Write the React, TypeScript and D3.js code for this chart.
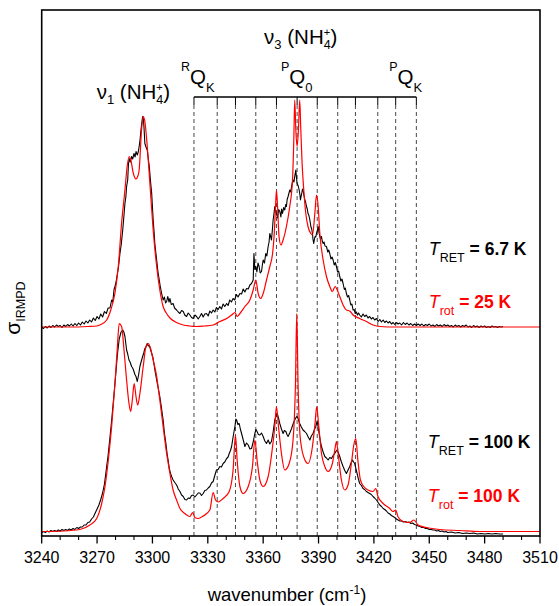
import React from 'react';
import * as d3 from 'd3';

// ---------- data ----------
const X_DOMAIN: [number, number] = [3240, 3510];
const Y_DOMAIN: [number, number] = [0, 100];
const MAJOR_TICKS = [3240, 3270, 3300, 3330, 3360, 3390, 3420, 3450, 3480, 3510];
const MINOR_TICKS = [3250, 3260, 3280, 3290, 3310, 3320, 3340, 3350, 3370, 3380, 3400, 3410, 3430, 3440, 3460, 3470, 3490, 3500];
const Q_LINES = [3322.5, 3335.1, 3345.0, 3356.0, 3367.2, 3378.4, 3389.3, 3400.4, 3410.0, 3422.1, 3431.8, 3443.0];
const TOP_OFFSET = 41; // vertical offset of the upper (6.7 K) pair of traces
const BRACKET_LEVEL = 87;

// upper experimental trace (T_RET = 6.7 K), relative to its own baseline
const topExp: [number, number][] = [
  [3240,0],[3241,-0.3],[3242,0.1],[3243,-0.2],[3244,0.2],[3245,-0.1],[3246,0.3],[3247,0],[3248,0.4],[3249,0.1],
  [3250,0.3],[3251,-0.1],[3252,0.4],[3253,0.1],[3254,0.5],[3255,0.2],[3256,0.6],[3257,0.2],[3258,0.7],[3259,0.3],
  [3260,0.8],[3261,0.4],[3262,1.0],[3263,0.6],[3264,1.2],[3265,0.8],[3266,1.4],[3267,1.0],[3268,1.8],[3269,1.3],
  [3270,2.1],[3271,1.6],[3272,2.6],[3273,2.0],[3274,3.1],[3275,2.7],[3276,3.8],[3277,3.8],[3277.9,5.4],[3278.5,5.0],
  [3279.2,7.5],[3279.7,8.1],[3280.3,9.0],[3280.9,10.4],[3281.6,12.0],[3282.4,14.7],[3283.1,16.5],[3283.9,19.4],
  [3284.5,22.0],[3285.1,24.7],[3285.6,26.0],[3286.0,28.1],[3286.6,29.4],[3287.0,32.5],[3287.4,33.7],[3288.0,33.0],
  [3288.7,34.1],[3289.3,33.6],[3290.0,34.7],[3290.6,34.0],[3291.1,35.1],[3291.8,34.4],[3292.3,35.0],[3292.8,36.1],
  [3293.3,37.5],[3293.8,39.4],[3294.3,41.0],[3294.7,42.1],[3295.1,41.5],[3295.4,40.1],[3295.9,36.7],[3296.5,36.0],
  [3297.2,35.4],[3297.8,33.5],[3298.3,32.1],[3299.0,29.0],[3299.6,26.7],[3300.0,24.0],[3300.4,21.4],[3300.9,19.0],
  [3301.3,16.7],[3301.8,15.0],[3302.3,13.4],[3303.0,11.0],[3303.7,9.4],[3304.3,8.0],[3305.0,6.7],[3305.8,5.4],
  [3306.5,6.0],[3307.1,4.8],[3307.7,5.1],[3308.3,6.1],[3309.0,5.0],[3309.5,5.7],[3310.2,4.5],[3311.2,4.7],
  [3312.0,3.8],[3313.1,3.4],[3314.0,3.0],[3314.9,2.7],[3315.8,3.3],[3316.7,3.1],[3317.5,2.4],[3318.5,2.1],
  [3319.4,2.8],[3320.3,2.4],[3321.2,1.9],[3322.1,1.7],[3323.0,2.4],[3323.9,2.1],[3324.8,1.6],[3325.7,2.1],
  [3326.6,2.7],[3327.5,2.0],[3328.4,2.6],[3329.3,2.7],[3330.2,2.2],[3331.1,3.2],[3332.0,2.8],[3332.9,3.4],
  [3333.8,3.0],[3334.7,3.9],[3335.6,3.5],[3336.5,4.1],[3337.4,3.6],[3338.3,4.6],[3339.2,4.1],[3340.2,4.7],
  [3341.0,4.3],[3341.9,5.4],[3342.8,5.0],[3343.7,5.7],[3344.6,5.4],[3345.5,6.5],[3346.4,6.0],[3347.4,6.7],
  [3348.3,6.6],[3349.2,7.6],[3350.1,7.0],[3351.0,7.7],[3351.9,7.6],[3352.8,8.4],[3353.7,8.7],[3354.6,9.4],
  [3355.0,14.7],[3355.5,11.5],[3356.0,12.1],[3356.6,11.0],[3357.2,12.8],[3357.8,12.1],[3358.4,10.8],[3359.1,11.1],
  [3359.6,12.5],[3360.0,13.4],[3360.7,12.8],[3361.4,14.7],[3362.0,14.2],[3362.7,16.1],[3363.2,17.0],[3363.6,18.7],
  [3364.1,18.0],[3364.5,17.4],[3365.0,19.5],[3365.4,21.4],[3365.9,22.8],[3366.3,24.1],[3366.8,23.0],[3367.2,22.7],
  [3367.8,21.8],[3368.4,23.5],[3369.0,23.1],[3369.6,22.0],[3370.0,23.6],[3370.5,22.7],[3371.1,23.9],[3371.7,23.4],
  [3372.2,24.5],[3372.6,24.1],[3373.0,25.5],[3373.5,26.1],[3374.0,26.8],[3374.4,27.4],[3374.9,27.0],[3375.4,28.1],
  [3375.8,28.9],[3376.2,29.4],[3376.7,29.0],[3377.1,30.1],[3377.7,31.4],[3378.0,30.0],[3378.4,28.7],[3379.0,28.2],
  [3379.5,27.4],[3379.9,26.5],[3380.2,25.4],[3380.6,26.2],[3380.9,26.7],[3381.3,27.6],[3381.6,27.4],[3382.1,26.3],
  [3382.6,25.4],[3383.0,25.0],[3383.5,24.1],[3383.9,23.6],[3384.3,22.7],[3384.8,22.3],[3385.3,21.4],[3385.9,20.0],
  [3386.3,19.6],[3386.7,18.7],[3387.0,17.5],[3387.4,16.7],[3387.8,17.6],[3388.1,18.1],[3388.5,18.0],[3388.9,18.7],
  [3389.3,19.2],[3389.8,20.1],[3390.2,19.0],[3390.7,18.1],[3391.1,17.6],[3391.6,18.1],[3392.0,17.2],[3392.5,16.7],
  [3393.0,17.0],[3393.5,16.2],[3394.3,16.1],[3395.0,15.0],[3395.5,15.4],[3396.1,14.7],[3396.7,13.6],[3397.3,14.0],
  [3397.9,13.4],[3398.5,12.4],[3399.1,12.9],[3399.7,12.1],[3400.3,11.0],[3400.9,11.2],[3401.5,10.1],[3402.1,9.2],
  [3402.7,9.6],[3403.3,8.7],[3404.0,7.5],[3404.5,7.8],[3405.1,6.7],[3405.7,6.0],[3406.3,6.3],[3406.9,5.4],
  [3407.5,4.4],[3408.1,4.6],[3408.7,3.4],[3409.3,3.5],[3409.9,2.7],[3410.5,3.0],[3411.1,2.4],[3411.7,2.8],
  [3412.3,2.4],[3413.2,2.0],[3414.1,2.6],[3415.0,2.1],[3415.9,2.4],[3416.8,1.8],[3417.7,2.1],[3418.6,1.6],
  [3419.5,1.9],[3420.4,1.4],[3421.4,1.7],[3422.3,1.1],[3423.2,1.5],[3424.1,1.0],[3425.0,1.4],[3425.9,0.9],
  [3426.8,1.2],[3427.7,0.8],[3428.6,1.1],[3429.5,0.6],[3430.4,0.9],[3431.3,0.5],[3432.2,0.9],[3433.1,0.6],
  [3434,0.8],[3435,0.4],[3436,0.9],[3437,0.5],[3438,0.8],[3439,0.4],[3440,0.7],[3441,0.3],[3442,0.6],[3443,0.3],
  [3444,0.6],[3445,0.3],[3446,0.6],[3447,0.2],[3448,0.5],[3449,0.3],[3450,0.6],[3451,0.2],[3452,0.4],[3453,0.1],
  [3454,0.5],[3455,0.2],[3456,0.4],[3457,0.1],[3458,0.5],[3459,0.2],[3460,0.4],[3461,0.1],[3462,0.3],[3463,0.0],
  [3464,0.4],[3465,0.1],[3466,0.3],[3467,0.0],[3468,0.3],[3469,0.1],[3470,0.4],[3471,0.0],[3472,0.2],[3473,-0.1],
  [3474,0.3],[3475,0.0],[3476,0.2],[3477,-0.1],[3478,0.2],[3479,0.0],[3480,0.2],[3481,-0.1],[3482,0.1],[3483,-0.1],
  [3484,0.2],[3485,0.0],[3486,0.1],[3487,-0.1],[3488,0.1],[3489,0.0],[3490,0.1],
];

// upper simulated trace (T_rot = 25 K), relative to its own baseline
const topSim: [number, number][] = [
  [3240,0],[3255,0],[3265,0.1],[3269.8,0.2],[3272,0.5],[3275.2,1.4],[3277.5,3.5],[3279.7,6.8],[3281.5,12.1],
  [3283.3,20.8],[3285.1,27.4],[3286.3,32.1],[3287.4,34.1],[3288.4,33.2],[3289.6,30.8],[3291.1,29.6],[3292.1,30.2],
  [3292.8,31.4],[3294.1,39.4],[3295.0,42.1],[3295.9,41.1],[3297.2,36.1],[3298.6,28.8],[3300.4,19.4],[3302.3,12.1],
  [3304.0,7.4],[3305.8,4.1],[3307.5,2.8],[3309.5,1.8],[3313,0.9],[3316.7,0.4],[3320,0.2],[3323.9,0.1],[3328,0.2],
  [3332.9,0.4],[3336.5,1.1],[3340.2,1.7],[3342.9,2.4],[3344.7,2.9],[3345.9,2.1],[3347.4,2.7],[3350.1,4.1],
  [3352.8,5.4],[3354.6,7.4],[3356.0,9.4],[3357.3,6.7],[3358.6,5.7],[3360.0,6.7],[3361.8,9.4],[3363.6,12.1],
  [3365.1,14.7],[3365.9,18.1],[3366.7,24.1],[3367.2,27.4],[3367.8,24.1],[3368.6,18.1],[3369.6,16.4],[3370.8,17.4],
  [3372.6,20.1],[3374.4,24.1],[3375.9,29.4],[3376.6,37.4],[3377.1,45.4],[3377.7,39.4],[3378.4,36.1],[3379.1,39.4],
  [3379.8,45.4],[3380.4,39.4],[3381.1,32.7],[3382.0,27.4],[3383.1,22.7],[3384.3,20.1],[3385.8,18.7],[3386.7,18.4],
  [3388.0,22.7],[3388.9,26.4],[3389.8,24.1],[3390.7,18.7],[3392.5,13.4],[3394.3,10.1],[3396.1,8.1],[3397.5,7.1],
  [3399.0,8.1],[3400.0,7.5],[3401.5,6.1],[3403.3,4.4],[3405.1,3.4],[3406.9,3.2],[3408.7,2.4],[3412.3,1.7],
  [3415.9,1.1],[3419.5,0.4],[3423.2,0.1],[3432.2,0],[3510,0],
];

// lower experimental trace (T_RET = 100 K)
const botExp: [number, number][] = [
  [3240,-0.1],[3241,0.1],[3242,-0.1],[3243,0.2],[3244,0.0],[3245,0.3],[3246,0.1],[3247,0.3],[3248,0.1],[3249,0.4],
  [3250,0.2],[3251,0.5],[3252,0.3],[3253,0.5],[3254,0.3],[3255,0.6],[3256,0.4],[3257,0.7],[3258,0.5],[3259,0.9],
  [3260,0.7],[3261,1.0],[3262,1.0],[3263,1.4],[3264,1.4],[3265,1.9],[3266,2.0],[3267,2.6],[3268,3.0],[3269,3.8],
  [3270,4.6],[3271,5.4],[3272,6.5],[3273,7.8],[3274,9.6],[3275,12.5],[3276,15.4],[3277,19.0],[3278,22.7],[3279,26.8],
  [3280,31.0],[3281,35.4],[3282,38.6],[3283,40.0],[3283.9,40.4],[3284.5,40.0],[3285.1,39.1],[3285.6,37.6],
  [3286.0,36.4],[3286.6,35.6],[3287.3,34.4],[3288.0,33.9],[3288.7,33.1],[3289.3,32.8],[3290.0,32.1],[3290.5,31.5],
  [3291.1,31.1],[3291.8,30.1],[3292.5,31.4],[3293.2,33.1],[3294.0,34.2],[3294.7,35.1],[3295.3,35.8],[3295.9,36.7],
  [3296.5,37.0],[3297.2,37.7],[3297.8,37.2],[3298.3,37.3],[3299.0,36.5],[3299.6,35.7],[3300.2,35.0],[3300.8,33.7],
  [3301.5,32.0],[3302.3,30.4],[3303.1,28.8],[3304.0,27.1],[3304.9,24.8],[3305.8,22.4],[3306.5,19.8],[3307.3,17.7],
  [3308.0,15.5],[3308.5,14.4],[3309.2,12.6],[3309.8,11.7],[3310.5,11.0],[3311.2,10.4],[3312.1,9.9],[3313.1,9.4],
  [3314.0,8.6],[3314.9,8.1],[3315.8,7.4],[3316.7,7.1],[3317.6,6.5],[3318.5,6.4],[3319.4,6.8],[3320.3,6.7],
  [3321.2,7.3],[3322.1,7.4],[3323.0,7.0],[3323.9,7.4],[3324.8,7.8],[3325.7,7.8],[3326.6,7.3],[3327.5,7.7],
  [3328.4,8.3],[3329.3,8.4],[3330.2,8.8],[3331.1,9.1],[3332.0,9.8],[3332.9,10.1],[3333.8,11.3],[3334.7,12.4],
  [3335.6,12.5],[3336.5,13.1],[3337.4,13.0],[3338.3,13.7],[3339.2,14.0],[3340.2,14.7],[3341.0,15.0],[3341.6,15.7],
  [3342.3,16.3],[3342.9,17.1],[3343.8,19.2],[3344.7,21.1],[3345.2,22.6],[3345.6,22.4],[3346.3,21.5],[3347.0,21.7],
  [3347.7,20.5],[3348.3,19.7],[3349.2,18.4],[3350.1,17.1],[3351.0,17.8],[3351.9,17.4],[3352.8,16.6],[3353.7,16.7],
  [3354.6,18.0],[3355.5,19.7],[3356.1,20.5],[3356.7,20.1],[3357.4,19.5],[3358.2,19.4],[3359.1,19.8],[3360.0,19.1],
  [3360.9,18.2],[3361.8,17.7],[3362.7,18.4],[3363.6,17.6],[3364.5,18.1],[3365.4,20.0],[3366.3,22.4],[3367.0,23.2],
  [3367.6,23.7],[3368.3,22.8],[3369.0,21.7],[3369.9,20.6],[3370.8,19.7],[3371.5,20.3],[3372.3,20.1],[3372.9,19.5],
  [3373.5,19.1],[3374.4,19.8],[3375.4,20.7],[3376.2,21.6],[3377.1,22.4],[3377.8,22.9],[3378.4,23.1],[3379.1,22.5],
  [3379.8,21.7],[3380.7,21.0],[3381.6,20.4],[3382.5,20.1],[3383.5,19.7],[3384.4,19.0],[3385.3,18.4],[3386.1,19.2],
  [3387.0,19.7],[3387.8,20.5],[3388.5,21.1],[3389.2,22.1],[3389.8,21.0],[3390.3,19.7],[3391.0,18.2],[3391.6,17.1],
  [3392.5,16.0],[3393.4,15.1],[3394.3,14.8],[3395.2,14.4],[3396.1,14.9],[3397.0,14.7],[3397.9,15.3],[3398.8,15.7],
  [3399.4,16.1],[3400.0,16.4],[3400.8,15.8],[3401.5,15.1],[3402.4,14.0],[3403.3,13.1],[3404.2,12.3],[3405.1,11.7],
  [3406.0,12.4],[3406.9,13.1],[3407.7,13.9],[3408.4,14.4],[3409.0,14.0],[3409.6,13.7],[3410.3,12.6],[3410.9,11.7],
  [3411.6,10.6],[3412.3,9.7],[3413.2,9.3],[3414.1,8.7],[3415.0,8.5],[3415.9,8.1],[3416.8,7.9],[3417.7,7.7],
  [3418.6,7.5],[3419.5,7.1],[3420.4,6.8],[3421.4,6.4],[3422.3,5.9],[3423.2,5.4],[3424.1,5.1],[3425.0,4.7],
  [3425.9,4.5],[3426.8,4.2],[3427.7,3.8],[3428.6,3.6],[3429.5,3.3],[3430.4,3.1],[3431.3,2.9],[3432.2,2.6],
  [3433.1,2.4],[3434,2.2],[3435,2.2],[3436,2.0],[3437,2.1],[3438,1.9],[3439,2.0],[3440,1.7],[3441,1.8],[3442,1.5],
  [3443,1.4],[3444,1.2],[3445,1.1],[3446,0.9],[3447,0.9],[3448,0.7],[3449,0.7],[3450,0.5],[3451,0.5],[3452,0.4],
  [3453,0.4],[3454,0.2],[3455,0.3],[3456,0.1],[3457,0.2],[3458,0.0],[3459,0.1],[3460,-0.1],[3462,0.0],[3464,-0.2],
  [3466,-0.1],[3468,-0.3],[3470,-0.2],[3472,-0.3],[3474,-0.2],[3476,-0.4],[3478,-0.3],[3480,-0.4],[3482,-0.3],
  [3484,-0.4],[3486,-0.3],[3488,-0.4],[3490,-0.4],
];

// lower simulated trace (T_rot = 100 K)
const botSim: [number, number][] = [
  [3240,0.1],[3251.7,0.2],[3260.7,0.5],[3266.1,1.4],[3269.8,2.7],[3272.5,5.7],[3274.3,9.1],[3276.1,14.4],
  [3277.9,21.1],[3279.7,29.7],[3280.9,36.4],[3282.0,41.7],[3283.3,41.1],[3284.6,36.4],[3286.0,30.4],[3287.3,25.7],
  [3288.2,24.1],[3289.1,26.4],[3290.1,29.7],[3291.1,27.1],[3292.0,25.4],[3293.2,27.7],[3295.0,33.1],[3296.5,37.1],
  [3297.7,37.7],[3299.0,36.7],[3300.4,34.4],[3302.3,31.1],[3304.0,26.4],[3305.8,21.1],[3307.7,15.7],[3309.5,11.7],
  [3311.2,8.4],[3313.1,6.4],[3314.9,4.7],[3317.6,3.7],[3320.3,3.1],[3321.8,3.9],[3323.0,2.9],[3324.8,2.7],
  [3327.5,3.2],[3331.1,4.4],[3332.9,7.9],[3334.2,6.4],[3335.6,6.0],[3338.3,6.7],[3341.6,8.1],[3343.7,12.4],
  [3345.0,19.4],[3345.9,14.4],[3347.4,9.1],[3349.1,7.7],[3351.9,9.1],[3354.2,13.1],[3355.5,18.4],[3356.7,14.4],
  [3358.2,10.4],[3360.0,9.1],[3362.7,11.1],[3365.1,17.1],[3366.3,21.1],[3367.2,25.1],[3368.3,21.1],[3369.9,15.7],
  [3371.7,12.4],[3374.1,13.7],[3376.2,18.4],[3377.5,29.7],[3378.2,43.7],[3378.9,29.7],[3380.2,18.4],[3382.6,14.4],
  [3384.3,13.7],[3386.7,17.1],[3388.1,21.7],[3389.0,25.1],[3390.0,21.7],[3391.6,15.7],[3393.4,13.1],[3395.2,12.1],
  [3397.5,13.7],[3398.8,16.4],[3399.7,18.1],[3400.6,15.7],[3402.4,10.4],[3404.2,8.4],[3406.0,9.4],[3407.8,13.7],
  [3409.1,17.4],[3410.2,18.7],[3411.3,14.4],[3412.7,10.4],[3414.5,9.1],[3416.8,8.4],[3419.5,8.1],[3421.0,8.7],
  [3422.2,7.1],[3425.0,5.7],[3428.6,4.7],[3430.4,4.1],[3431.8,4.4],[3433.1,3.0],[3435.8,2.1],[3439.4,1.9],
  [3441.7,2.4],[3443.9,1.4],[3448.4,0.9],[3455.6,0.5],[3466.5,0.3],[3477.3,0.1],[3510,0.1],
];

// ---------- layout ----------
const W = 559, H = 606;
const L = 41.7, R = 540, T = 10, B = 536;
const FONT = "'Liberation Sans', Arial, Helvetica, sans-serif";
const RED = '#ff0000';

function NHLabel({ px, py, sub }: { px: number; py: number; sub: string }) {
  return (
    <g>
      <text x={px} y={py} fontSize={20.5} fill="#000">
        ν<tspan dy={5} fontSize={13}>{sub}</tspan><tspan dy={-5}> (NH</tspan>
      </text>
    </g>
  );
}

export default function App() {
  const x = d3.scaleLinear().domain(X_DOMAIN).range([L, R]);
  const y = d3.scaleLinear().domain(Y_DOMAIN).range([532, 32]);

  const lineOf = (offset: number, curve: d3.CurveFactory) =>
    d3.line<[number, number]>().x(d => x(d[0])).y(d => y(d[1] + offset)).curve(curve);

  const topExpPath = lineOf(TOP_OFFSET, d3.curveLinear)(topExp) || '';
  const topSimPath = lineOf(TOP_OFFSET, d3.curveMonotoneX)(topSim) || '';
  const botExpPath = lineOf(0, d3.curveLinear)(botExp) || '';
  const botSimPath = lineOf(0, d3.curveMonotoneX)(botSim) || '';

  const by = y(BRACKET_LEVEL);
  const qMin = d3.min(Q_LINES) as number;
  const qMax = d3.max(Q_LINES) as number;

  // ν labels: main text, then stacked +/4 and closing parenthesis
  const nuLabel = (wn: number, level: number, sub: string, key: string) => {
    const px = x(wn), py = y(level);
    return (
      <text key={key} x={px} y={py} fontSize={20.5} fill="#000">
        ν<tspan dy={5} fontSize={13}>{sub}</tspan><tspan dy={-5}> (NH</tspan>
        <tspan dy={-8} fontSize={11}>+</tspan><tspan dx={-6.5} dy={13.5} fontSize={12.5}>4</tspan>
        <tspan dy={-5.5}>)</tspan>
      </text>
    );
  };

  const qLabel = (wn: number, sup: string, sub: string, key: string) => (
    <text key={key} x={x(wn)} y={y(89.7) - 13} fontSize={12.5} fill="#000">
      {sup}<tspan dy={13} fontSize={20.5}>Q</tspan><tspan dy={8} fontSize={13}>{sub}</tspan>
    </text>
  );

  const tLabel = (wn: number, level: number, sub: string, rest: string, color: string, key: string) => (
    <text key={key} x={x(wn)} y={y(level)} fontSize={18} fill={color}>
      <tspan fontStyle="italic">T</tspan><tspan dy={7} fontSize={12.5}>{sub}</tspan>
      <tspan dy={-7} fontWeight="bold" fontSize={17.5}>{' = ' + rest}</tspan>
    </text>
  );

  return (
    <svg width={W} height={H} style={{ position: 'absolute', left: 0, top: 0, background: '#fff' }}
      fontFamily={FONT}>
      {/* Q-branch dashed lines */}
      {Q_LINES.map((q, i) => (
        <g key={'q' + i}>
          <line x1={x(q)} x2={x(q)} y1={by + 8} y2={B} stroke="#333" strokeWidth={0.9} strokeDasharray="4,3" />
          <line x1={x(q)} x2={x(q)} y1={by} y2={by + 8} stroke="#000" strokeWidth={1} />
        </g>
      ))}
      <line x1={x(qMin)} x2={x(qMax)} y1={by} y2={by} stroke="#000" strokeWidth={1.3} />

      {/* traces */}
      <path d={topExpPath} fill="none" stroke="#000" strokeWidth={1.1} strokeLinejoin="round" />
      <path d={topSimPath} fill="none" stroke={RED} strokeWidth={1.2} strokeLinejoin="round" />
      <path d={botExpPath} fill="none" stroke="#000" strokeWidth={1.1} strokeLinejoin="round" />
      <path d={botSimPath} fill="none" stroke={RED} strokeWidth={1.2} strokeLinejoin="round" />

      {/* frame */}
      <rect x={L} y={T} width={R - L} height={B - T} fill="none" stroke="#000" strokeWidth={1.6} />

      {/* x ticks */}
      {MAJOR_TICKS.map(t => (
        <g key={'M' + t}>
          <line x1={x(t)} x2={x(t)} y1={B} y2={B + 7.5} stroke="#000" strokeWidth={1.3} />
          <text x={x(t)} y={563} textAnchor="middle" fontSize={16} fill="#000">{t}</text>
        </g>
      ))}
      {MINOR_TICKS.map(t => (
        <line key={'m' + t} x1={x(t)} x2={x(t)} y1={B} y2={B + 4} stroke="#000" strokeWidth={1.1} />
      ))}

      {/* axis titles */}
      <text x={287} y={601} textAnchor="middle" fontSize={18.5} fill="#000">
        wavenumber (cm<tspan dy={-7} fontSize={12}>-1</tspan><tspan dy={7}>)</tspan>
      </text>
      <text transform="translate(20,308) rotate(-90)" textAnchor="middle" fontSize={21} fill="#000">
        σ<tspan dy={5} fontSize={12.5}>IRMPD</tspan>
      </text>

      {/* band labels */}
      {nuLabel(3360.5, 97.7, '3', 'nu3')}
      {nuLabel(3269.8, 86.7, '1', 'nu1')}
      {qLabel(3315.5, 'R', 'K', 'qr')}
      {qLabel(3369.6, 'P', '0', 'qp0')}
      {qLabel(3428.3, 'P', 'K', 'qpk')}

      {/* temperature labels */}
      {tLabel(3449.7, 55.4, 'RET', '6.7 K', '#000', 't1')}
      {tLabel(3449.7, 44.8, 'rot', '25 K', RED, 't2')}
      {tLabel(3449.2, 16.8, 'RET', '100 K', '#000', 't3')}
      {tLabel(3449.2, 6.0, 'rot', '100 K', RED, 't4')}
    </svg>
  );
}
